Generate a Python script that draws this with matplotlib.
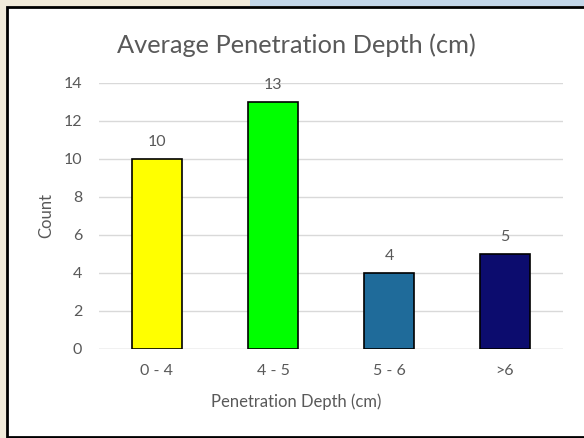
import matplotlib.pyplot as plt
from matplotlib.patches import Rectangle

categories = ['0 - 4', '4 - 5', '5 - 6', '>6']
counts = [10, 13, 4, 5]
bar_colors = ['#ffff00', '#00ff00', '#1f6b9a', '#0c0c6e']
y_ticks = [0, 2, 4, 6, 8, 10, 12, 14]

plt.rcParams['font.family'] = ['Lato', 'DejaVu Sans']
text_color = '#595959'

W, H = 584, 438
fig = plt.figure(figsize=(W / 100, H / 100), dpi=100)
fig.patch.set_facecolor('#f1ebda')

# blurred background bits outside the chart box
fig.patches.append(Rectangle((250 / W, 1 - 6 / H), 1 - 250 / W, 6 / H,
                             transform=fig.transFigure, facecolor='#c3d6e8',
                             edgecolor='none', zorder=-3))
# chart box
fig.patches.append(Rectangle((7 / W, 1 / H), 1, 1 - 8 / H,
                             transform=fig.transFigure, facecolor='white',
                             edgecolor='black', linewidth=2, zorder=-2))

ax = fig.add_axes([99 / W, 1 - 349 / H, 464 / W, 266 / H])
ax.set_facecolor('none')

x = range(len(categories))
bars = ax.bar(x, counts, width=0.43, color=bar_colors, edgecolor='black',
              linewidth=1.2, zorder=3)
for xi, v in zip(x, counts):
    ax.text(xi, v + 0.55, str(v), ha='center', va='bottom', fontsize=11.5,
            color=text_color)

ax.set_xlim(-0.5, len(categories) - 0.5)
ax.set_ylim(0, 14)
ax.set_yticks(y_ticks)
ax.set_xticks(list(x))
ax.set_xticklabels(categories)
ax.yaxis.grid(True, color='#d9d9d9', linewidth=1, zorder=0)
ax.set_axisbelow(True)
for s in ax.spines.values():
    s.set_visible(False)
ax.axhline(0, color='#d9d9d9', linewidth=1, zorder=1)
ax.tick_params(length=0, colors=text_color, labelsize=11.5)
ax.tick_params(axis='y', pad=12)
ax.tick_params(axis='x', pad=11)

fig.text(296 / W, 1 - 402 / H, 'Penetration Depth (cm)', ha='center',
         va='center', fontsize=12, color=text_color)
fig.text(46 / W, 1 - 215 / H, 'Count', ha='center', va='center',
         rotation=90, fontsize=12, color=text_color)
fig.text(296 / W, 1 - 45 / H, 'Average Penetration Depth (cm)',
         ha='center', va='center', fontsize=18.3, color=text_color)

fig.savefig('out.png', dpi=100, facecolor=fig.get_facecolor())
